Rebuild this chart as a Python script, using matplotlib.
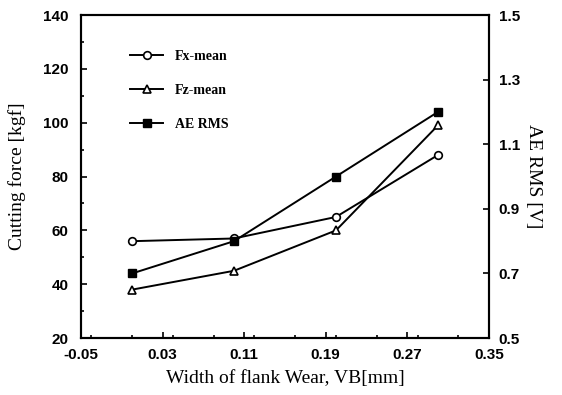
import numpy as np
import matplotlib.pyplot as plt
from matplotlib.ticker import MultipleLocator

vb = [0.0, 0.1, 0.2, 0.3]
fx_mean = [56, 57, 65, 88]
fz_mean = [38, 45, 60, 99]
ae_rms = [0.70, 0.80, 1.00, 1.20]

serif = ['Liberation Serif', 'DejaVu Serif']
sans = ['Liberation Sans', 'DejaVu Sans']

fig = plt.figure(figsize=(5.62, 3.95), dpi=100)
ax = fig.add_axes([0.144, 0.144, 0.726, 0.818])
ax2 = ax.twinx()

l1, = ax.plot(vb, fx_mean, color='black', lw=1.4, marker='o', ms=5.5,
              mfc='white', mec='black', mew=1.2, label='Fx-mean')
l2, = ax.plot(vb, fz_mean, color='black', lw=1.4, marker='^', ms=5.5,
              mfc='white', mec='black', mew=1.2, label='Fz-mean')
l3, = ax2.plot(vb, ae_rms, color='black', lw=1.4, marker='s', ms=5.5,
               mfc='black', mec='black', label='AE RMS')

ax.set_xlim(-0.05, 0.35)
ax.set_ylim(20, 140)
ax2.set_ylim(0.5, 1.5)
ax.set_xticks([-0.05, 0.03, 0.11, 0.19, 0.27, 0.35])
ax.set_xticklabels(['-0.05', '0.03', '0.11', '0.19', '0.27', '0.35'])
ax.xaxis.set_minor_locator(MultipleLocator(0.04))
ax.set_yticks(np.arange(20, 141, 20))
ax.yaxis.set_minor_locator(MultipleLocator(10))
ax2.set_yticks([0.5, 0.7, 0.9, 1.1, 1.3, 1.5])
ax2.set_yticklabels(['0.5', '0.7', '0.9', '1.1', '1.3', '1.5'])

for a in (ax, ax2):
    for s in a.spines.values():
        s.set_linewidth(1.5)
    a.tick_params(which='both', direction='in', width=1.2)
    a.tick_params(which='major', length=4)
    a.tick_params(which='minor', length=2.5)
ax.tick_params(axis='x', pad=7)
ax.tick_params(axis='y', pad=9)
ax2.tick_params(axis='y', pad=7)
for lab in ax.get_xticklabels() + ax.get_yticklabels() + ax2.get_yticklabels():
    lab.set_family(sans)
    lab.set_fontweight('bold')
    lab.set_fontsize(11)

ax.set_xlabel('Width of flank Wear, VB[mm]', family=serif, fontsize=14, labelpad=6)
ax.set_ylabel('Cutting force [kgf]', family=serif, fontsize=14, labelpad=12)
ax2.set_ylabel('AE RMS [V]', family=serif, fontsize=14, rotation=270, labelpad=16)

leg = ax2.legend(handles=[l1, l2, l3], loc='upper left', bbox_to_anchor=(0.09, 0.93),
                 frameon=False, labelspacing=1.5, handlelength=2.4,
                 prop={'family': serif, 'size': 10, 'weight': 'bold'})

fig.savefig('out.png', dpi=100)
